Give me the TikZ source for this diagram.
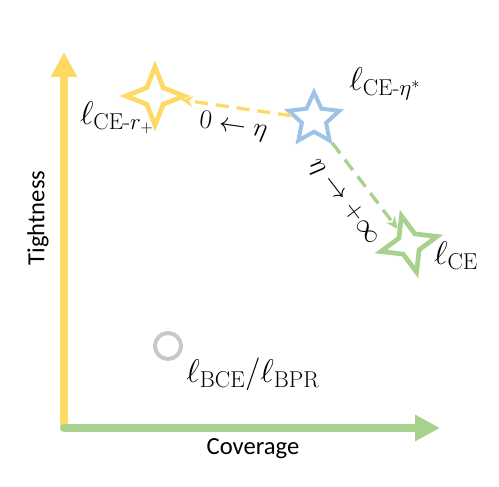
\RequirePackage{fix-cm}
\documentclass[tikz,border=0pt]{standalone}
\usepackage{amsmath}
\usepackage{fontspec}
\newfontfamily\axisfont{Carlito}
\usetikzlibrary{arrows.meta,shapes.geometric}

\definecolor{axisyellow}{HTML}{FFD966}
\definecolor{axisgreen}{HTML}{A9D18E}
\definecolor{starblue}{HTML}{9DC3E6}
\definecolor{markgray}{HTML}{C8C8C8}

\begin{document}
\begin{tikzpicture}[
x=0.03cm, y=0.03cm,
axis/.style={
line width=0.24cm,
-{Triangle[length=0.75cm,width=0.75cm]}
},
axislabel/.style={font=\axisfont\fontsize{21}{25}\selectfont},
fourstar/.style={
star, star points=4, star point ratio=2.5,
minimum size=1.75cm, inner sep=0pt,
line width=1.4mm, fill=white
},
fivestar/.style={
star, star points=5, star point ratio=2.1,
minimum size=1.6cm, inner sep=0pt,
line width=1.2mm, fill=white
},
lossname/.style={font=\fontsize{28}{32}\selectfont},
patharrow/.style={
line width=0.1cm,
dash pattern=on 0.39cm off 0.24cm,
-{Stealth[length=0.36cm,width=0.32cm]}
},
pathlabel/.style={font=\fontsize{23}{27}\selectfont, text=black}
]
\useasboundingbox (0,0) rectangle (499,487);

% axes
\coordinate (O) at (64,59);
\coordinate (ytip) at (64,435);
\coordinate (xtip) at (440,59);
\draw[axis, axisyellow] (O) -- (ytip);
\draw[axis, axisgreen, line cap=round] (O) -- (xtip);

\node[axislabel, rotate=90] (tightness) at (38,269) {Tightness};
\node[axislabel] (coverage) at (253,38) {Coverage};

% losses
\node[fourstar, draw=axisyellow] (rplus) at (155,391) {};
\node[fivestar, draw=starblue] (etastar) at (314,368) {};
\node[fourstar, draw=axisgreen, rotate=15] (ce) at (409,243) {};
\node[circle, draw=markgray, line width=1.2mm, minimum size=0.78cm] (bce) at (168,141) {};

\node[lossname] (rplusname) at (117,369) {$\ell_{\mathrm{CE}\text{-}r_+}$};
\node[lossname] (etaname) at (385,403) {$\ell_{\mathrm{CE}\text{-}\eta^*}$};
\node[lossname] (cename) at (456,231) {$\ell_{\mathrm{CE}}$};
\node[lossname] (bcename) at (253,113) {$\ell_{\mathrm{BCE}}/\ell_{\mathrm{BPR}}$};

% limits of eta
\draw[patharrow, axisyellow] (etastar) -- node[pathlabel, sloped, below=2pt] {$0\leftarrow\eta$} (rplus);
\draw[patharrow, axisgreen] (etastar) -- node[pathlabel, sloped, below=9pt] {$\eta\rightarrow+\infty$} (ce);

\end{tikzpicture}
\end{document}
